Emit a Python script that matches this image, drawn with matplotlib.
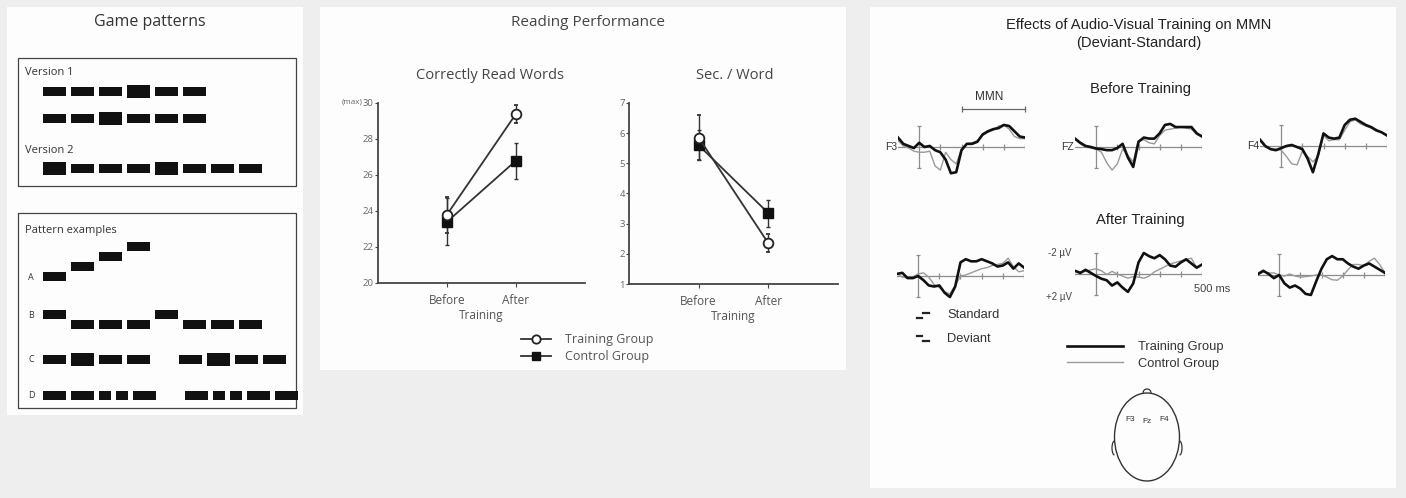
import matplotlib
matplotlib.use('Agg')
import matplotlib.pyplot as plt
from matplotlib.patches import Rectangle, Ellipse, Arc
from matplotlib.lines import Line2D

W, H = 1406, 498

# game patterns: L long tone, B big (louder) tone, S short tone, _ pause
version1_a = ['L', 'L', 'L', 'B', 'L', 'L']
version1_b = ['L', 'L', 'B', 'L', 'L', 'L']
version2 = ['B', 'L', 'L', 'L', 'B', 'L', 'L', 'L']
pattern_a_levels = [0, 1, 2, 3]
pattern_b_levels = [1, 0, 0, 0, 1, 0, 0, 0]
pattern_c = ['L', 'B', 'L', 'L', '_', 'L', 'B', 'L', 'L']
pattern_d = ['L', 'L', 'S', 'S', 'L', '_', 'L', 'S', 'S', 'L', 'L']

# reading performance
phases = ['Before', 'After']
words_training = [23.8, 29.4]
words_training_err = [1.0, 0.5]
words_control = [23.4, 26.8]
words_control_err = [1.3, 1.0]
secs_training = [5.85, 2.35]
secs_training_err = [0.75, 0.3]
secs_control = [5.6, 3.35]
secs_control_err = [0.5, 0.45]

# MMN difference waves (uV, negative up)
erp_times = [-100, -75, -50, -25, 0, 25, 50, 75, 100, 125, 150, 175, 200,
             225, 250, 275, 300, 325, 350, 375, 400, 425, 450, 475, 500]
f3_before_training = [-0.9, -0.3, -0.1, 0.1, -0.4, 0.0, -0.1, 0.3, 0.5, 1.2, 2.5, 2.4, 0.3,
                      -0.3, -0.3, -0.5, -1.2, -1.5, -1.7, -1.8, -2.1, -2.0, -1.5, -1.0, -0.9]
f3_before_control = [-0.6, -0.1, 0.1, 0.4, 0.5, 0.5, 0.4, 1.8, 2.2, 0.5, 1.2, 1.6, 0.2,
                     -0.3, -0.4, -0.6, -1.1, -1.4, -1.6, -2.0, -2.1, -1.7, -1.0, -0.8, -0.8]
fz_before_training = [-0.8, -0.4, -0.1, 0.0, 0.15, 0.2, 0.3, 0.3, 0.1, -0.3, 1.0, 1.9, -0.5,
                      -0.9, -0.8, -0.8, -1.3, -2.1, -2.2, -1.9, -1.9, -1.9, -1.9, -1.3, -1.0]
fz_before_control = [-0.7, -0.3, 0.0, 0.1, 0.2, 0.5, 1.5, 2.2, 1.6, 0.2, 0.8, 1.4, -0.6,
                     -0.7, -0.4, -0.3, -1.1, -1.6, -1.7, -1.8, -1.9, -1.8, -1.7, -1.2, -1.0]
f4_before_training = [-0.6, 0.0, 0.3, 0.4, 0.2, 0.0, -0.1, 0.1, 0.3, 1.2, 2.5, 0.8, -1.2,
                      -0.8, -0.7, -0.8, -2.0, -2.5, -2.6, -2.3, -2.0, -1.8, -1.5, -1.3, -1.0]
f4_before_control = [-0.5, 0.1, 0.3, 0.3, 0.4, 1.0, 1.7, 1.8, 0.5, 1.0, 1.5, 1.0, -1.0,
                     -0.5, -0.6, -0.6, -1.5, -2.3, -2.5, -2.1, -1.9, -1.7, -1.4, -1.3, -1.0]
f3_after_training = [-0.2, -0.3, 0.2, 0.2, 0.0, 0.4, 0.9, 1.0, 0.9, 1.6, 2.0, 1.0, -1.3,
                     -1.6, -1.4, -1.4, -1.6, -1.4, -1.2, -0.9, -1.0, -1.3, -0.7, -1.2, -0.8]
f3_after_control = [-0.2, 0.1, 0.2, 0.1, -0.2, -0.3, 0.1, 0.8, 1.1, 1.5, 1.7, 0.9, 0.0,
                    -0.1, -0.3, -0.5, -0.7, -0.8, -1.0, -1.1, -1.2, -1.7, -0.9, -0.4, -0.5]
fz_after_training = [-0.3, -0.1, -0.4, -0.1, 0.2, 0.45, 0.6, 1.1, 0.8, 1.3, 1.7, 0.9, -1.1,
                     -2.0, -1.7, -1.5, -1.8, -1.4, -0.8, -0.7, -1.1, -1.4, -1.0, -0.6, -0.9]
fz_after_control = [-0.3, -0.2, -0.25, -0.4, -0.5, -0.3, 0.05, -0.25, 0.0, 0.2, 0.4, 0.25, 0.3,
                    0.4, 0.2, -0.2, -0.45, -0.7, -0.95, -1.1, -1.25, -1.4, -1.5, -0.6, -0.9]
f4_after_training = [-0.1, -0.4, -0.1, 0.3, 0.0, 0.8, 1.2, 1.0, 1.3, 1.8, 1.9, 0.6, -0.6,
                     -1.5, -1.8, -1.5, -1.5, -1.1, -0.8, -0.6, -0.9, -1.1, -0.8, -0.5, -0.2]
f4_after_control = [0.0, -0.3, -0.2, -0.2, 0.0, 0.1, -0.1, 0.1, 0.2, 0.15, 0.1, 0.0, 0.0,
                    0.2, 0.45, 0.5, 0.1, -0.5, -1.0, -1.0, -0.9, -1.3, -1.6, -1.0, -0.2]
erp_ticks = [100, 200, 300, 400, 500]
mmn_window = [200, 500]

SANS = ['Open Sans', 'DejaVu Sans']
ARIAL = ['Liberation Sans', 'DejaVu Sans']
INK = '#222222'

fig = plt.figure(figsize=(W / 100, H / 100), dpi=100, facecolor='#eeeeee')


def px_axes(x0, y0, x1, y1):
    return fig.add_axes([x0 / W, 1 - y1 / H, (x1 - x0) / W, (y1 - y0) / H])


canvas = fig.add_axes([0, 0, 1, 1])
canvas.set_xlim(0, W)
canvas.set_ylim(H, 0)
canvas.axis('off')

# white panels
for x0, y0, w, h in [(7, 7, 296, 408), (320, 7, 526, 363), (870, 7, 526, 481)]:
    canvas.add_patch(Rectangle((x0, y0), w, h, fc='#fdfdfd', ec='none'))

# ---- panel 1: game patterns
canvas.text(150, 22, 'Game patterns', ha='center', va='center', fontsize=11.5,
            color='#333333', family=SANS)
canvas.add_patch(Rectangle((18, 58), 278, 128, fill=False, ec='#444444', lw=0.9))
canvas.add_patch(Rectangle((18, 213), 278, 195, fill=False, ec='#444444', lw=0.9))
canvas.text(25, 72, 'Version 1', fontsize=8, va='center', color='#333333', family=SANS)
canvas.text(25, 150, 'Version 2', fontsize=8, va='center', color='#333333', family=SANS)
canvas.text(25, 230, 'Pattern examples', fontsize=8, va='center', color='#333333', family=SANS)


def draw_blocks(tokens, yc, levels=None, x0=43, step=9.7):
    x = x0
    for i, tok in enumerate(tokens):
        if tok == '_':
            x += 24
            continue
        w = 12 if tok == 'S' else 23
        h = 13 if tok == 'B' else 9
        y = yc - (levels[i] * step if levels is not None else 0)
        canvas.add_patch(Rectangle((x, y - h / 2), w, h, fc='#111111', ec='none'))
        x += w + 5


draw_blocks(version1_a, 91)
draw_blocks(version1_b, 118)
draw_blocks(version2, 168)
draw_blocks(['L'] * len(pattern_a_levels), 276, pattern_a_levels)
draw_blocks(['L'] * len(pattern_b_levels), 324, pattern_b_levels)
draw_blocks(pattern_c, 359)
draw_blocks(pattern_d, 395)
for lab, y in zip('ABCD', [277, 315, 359, 395]):
    canvas.text(31, y, lab, fontsize=6.5, ha='center', va='center', color='#333333', family=SANS)

# ---- panel 2: reading performance
canvas.text(588, 22, 'Reading Performance', ha='center', va='center', fontsize=11,
            color='#444444', family=SANS)
canvas.text(490, 75, 'Correctly Read Words', ha='center', va='center', fontsize=10.5,
            color='#444444', family=SANS)
canvas.text(735, 75, 'Sec. / Word', ha='center', va='center', fontsize=10.5,
            color='#444444', family=SANS)


def style_perf(ax, ylim, yticks):
    ax.patch.set_visible(False)
    ax.set_xlim(0, 3)
    ax.set_ylim(*ylim)
    for s in ['top', 'right']:
        ax.spines[s].set_visible(False)
    for s in ['left', 'bottom']:
        ax.spines[s].set_color('#444444')
        ax.spines[s].set_linewidth(1.3)
    ax.set_yticks(yticks)
    ax.set_xticks([1, 2])
    ax.set_xticklabels(phases, family=SANS)
    ax.tick_params(axis='y', labelsize=6.8, labelcolor='#666666', length=2, width=0.8,
                   color='#444444', pad=1)
    ax.tick_params(axis='x', labelsize=8.5, labelcolor='#555555', length=3, width=0.8,
                   color='#444444', pad=5)
    for lab in ax.get_yticklabels():
        lab.set_family(SANS)
    ax.set_xlabel('Training', fontsize=8.5, color='#555555', family=SANS, labelpad=1.5)


def perf_series(ax, ctrl, ctrl_err, train, train_err):
    x = [1, 2]
    ax.errorbar(x, ctrl, yerr=ctrl_err, color='#333333', lw=1.3, elinewidth=1,
                capsize=1.5, marker='s', ms=7, mfc='#111111', mec='#111111')
    ax.errorbar(x, train, yerr=train_err, color='#333333', lw=1.3, elinewidth=1,
                capsize=1.5, marker='o', ms=7, mfc='white', mec='#222222', mew=1.3)


ax_words = px_axes(378, 103, 585, 283)
style_perf(ax_words, (20, 30), [20, 22, 24, 26, 28, 30])
perf_series(ax_words, words_control, words_control_err, words_training, words_training_err)
canvas.text(362, 102, '(max)', ha='right', va='center', fontsize=5.8, color='#666666',
            family=SANS)

ax_secs = px_axes(629, 103, 838, 284)
style_perf(ax_secs, (1, 7), [1, 2, 3, 4, 5, 6, 7])
perf_series(ax_secs, secs_control, secs_control_err, secs_training, secs_training_err)

perf_handles = [
    Line2D([], [], color='#333333', lw=1.3, marker='o', ms=6, mfc='white', mec='#222222', mew=1.3),
    Line2D([], [], color='#333333', lw=1.3, marker='s', ms=6, mfc='#111111', mec='#111111'),
]
fig.legend(perf_handles, ['Training Group', 'Control Group'], loc='upper left',
           bbox_to_anchor=(521 / W, 1 - 333 / H), frameon=False, borderpad=0,
           borderaxespad=0, handlelength=2.4, handletextpad=1.1, labelspacing=0.35,
           prop={'family': SANS, 'size': 9}, labelcolor='#555555')

# ---- panel 3: MMN
canvas.text(1139, 25, 'Effects of Audio-Visual Training on MMN', ha='center', va='center',
            fontsize=10.6, color=INK, family=ARIAL)
canvas.text(1139, 43, '(Deviant-Standard)', ha='center', va='center', fontsize=10.6,
            color=INK, family=ARIAL)
canvas.text(1140, 89, 'Before Training', ha='center', va='center', fontsize=10.6,
            color=INK, family=ARIAL)
canvas.text(1140, 220, 'After Training', ha='center', va='center', fontsize=10.6,
            color=INK, family=ARIAL)

erp_layout = [
    ('F3', 898, 147, f3_before_training, f3_before_control),
    ('FZ', 1075, 147, fz_before_training, fz_before_control),
    ('F4', 1260, 146, f4_before_training, f4_before_control),
    (None, 897, 276, f3_after_training, f3_after_control),
    (None, 1075, 274, fz_after_training, fz_after_control),
    (None, 1258, 275, f4_after_training, f4_after_control),
]
erp_axes = []
for label, x0, base, train, ctrl in erp_layout:
    ax = px_axes(x0, base - 36.75, x0 + 127, base + 36.75)
    ax.set_xlim(-100, 500)
    ax.set_ylim(3.5, -3.5)
    ax.axis('off')
    ax.plot([erp_times[0], erp_times[-1]], [0, 0], color='#8c8c8c', lw=0.9)
    ax.vlines(erp_ticks, -0.25, 0.25, color='#8c8c8c', lw=0.9)
    ax.vlines(0, -2, 2, color='#8c8c8c', lw=0.9)
    ax.hlines([-2, 2], -9, 9, color='#8c8c8c', lw=0.9)
    ax.plot(erp_times, ctrl, color='#9a9a9a', lw=1.0)
    ax.plot(erp_times, train, color='#111111', lw=1.9)
    if label:
        ax.text(-105, 0, label, ha='right', va='center', fontsize=7.5, color='#333333',
                family=ARIAL)
    erp_axes.append(ax)

ax_f3 = erp_axes[0]
ax_f3.plot(mmn_window, [-3.6, -3.6], color='#666666', lw=0.9, clip_on=False)
ax_f3.vlines(mmn_window, -3.9, -3.3, color='#666666', lw=0.9, clip_on=False)
ax_f3.text(sum(mmn_window) / 2 - 20, -4.8, 'MMN', ha='center', va='center', fontsize=8.5,
           color='#333333', family=ARIAL)

ax_fz = erp_axes[4]
ax_fz.text(-115, -2, '-2 \u00b5V', ha='right', va='center', fontsize=7, color='#444444',
           family=ARIAL)
ax_fz.text(-115, 2.2, '+2 \u00b5V', ha='right', va='center', fontsize=7, color='#444444',
           family=ARIAL)
ax_fz.text(460, 1.4, '500 ms', ha='left', va='center', fontsize=8, color='#444444',
           family=ARIAL)

# standard / deviant keys
canvas.plot([917, 922], [318, 318], color=INK, lw=1.6)
canvas.plot([923, 929], [313, 313], color=INK, lw=1.6)
canvas.plot([917, 922], [336, 336], color=INK, lw=1.6)
canvas.plot([923, 929], [341, 341], color=INK, lw=1.6)
canvas.text(947, 315, 'Standard', va='center', fontsize=9.3, color='#333333', family=ARIAL)
canvas.text(947, 339, 'Deviant', va='center', fontsize=9.3, color='#333333', family=ARIAL)

group_handles = [Line2D([], [], color='#111111', lw=1.9), Line2D([], [], color='#9a9a9a', lw=1.0)]
fig.legend(group_handles, ['Training Group', 'Control Group'], loc='upper left',
           bbox_to_anchor=(1067 / W, 1 - 341 / H), frameon=False, borderpad=0,
           borderaxespad=0, handlelength=4.3, handletextpad=1.2, labelspacing=0.35,
           prop={'family': ARIAL, 'size': 9.3}, labelcolor='#333333')

# head with electrode positions
canvas.add_patch(Ellipse((1147, 437), 65, 88, fill=False, ec='#333333', lw=1.0))
canvas.add_patch(Arc((1147, 393), 8, 8, theta1=180, theta2=360, ec='#333333', lw=0.9))
canvas.add_patch(Arc((1114.5, 448), 5, 14, theta1=90, theta2=270, ec='#333333', lw=0.9))
canvas.add_patch(Arc((1179.5, 448), 5, 14, theta1=270, theta2=90, ec='#333333', lw=0.9))
for lab, x, y in [('F3', 1130, 419), ('Fz', 1147, 421), ('F4', 1164, 419)]:
    canvas.text(x, y, lab, ha='center', va='center', fontsize=6, color='#333333',
                family=ARIAL)

fig.savefig('out.png', dpi=100, facecolor=fig.get_facecolor())
